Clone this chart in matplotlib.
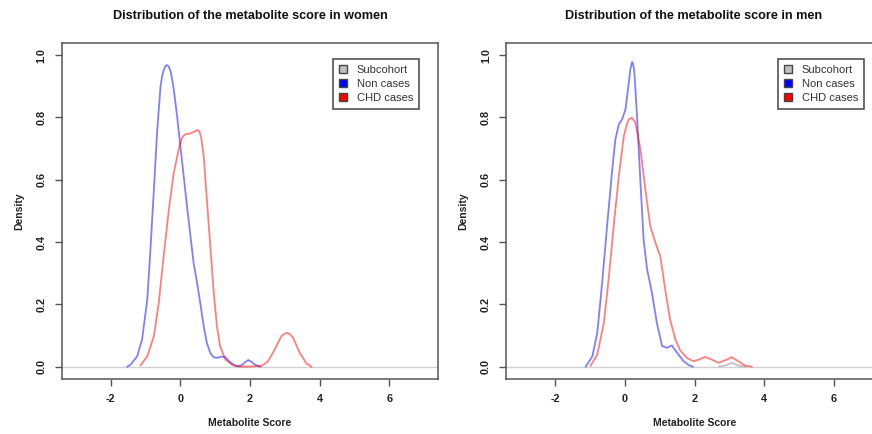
import matplotlib
matplotlib.use("Agg")
import matplotlib.pyplot as plt
from matplotlib.patches import Patch

plt.rcParams['font.family'] = ['Liberation Sans', 'DejaVu Sans']

# ---- Women ----
women_non_x = [-1.52, -1.43, -1.24, -1.10, -0.95, -0.86, -0.76, -0.67, -0.57, -0.52, -0.47, -0.42, -0.38,
               -0.33, -0.28, -0.24, -0.19, -0.095, 0.0, 0.095, 0.19, 0.29, 0.38, 0.48, 0.57, 0.67, 0.76,
               0.86, 0.95, 1.05, 1.19, 1.29, 1.43, 1.55, 1.62, 1.76, 1.86, 1.95, 2.05, 2.14, 2.29]
women_non_y = [0.0, 0.006, 0.033, 0.087, 0.215, 0.376, 0.569, 0.75, 0.90, 0.935, 0.955, 0.966, 0.968,
               0.963, 0.948, 0.925, 0.89, 0.805, 0.708, 0.612, 0.515, 0.419, 0.333, 0.269, 0.205, 0.13, 0.076,
               0.044, 0.030, 0.028, 0.032, 0.030, 0.014, 0.004, 0.001, 0.004, 0.014, 0.021, 0.015, 0.006, 0.0]
women_chd_x = [-1.14, -0.95, -0.76, -0.62, -0.48, -0.33, -0.19, -0.048, 0.048, 0.14, 0.29, 0.38, 0.45,
               0.50, 0.55, 0.60, 0.67, 0.76, 0.86, 0.95, 1.05, 1.14, 1.29, 1.48, 1.67, 2.0, 2.33, 2.52, 2.71,
               2.9, 3.0, 3.07, 3.15, 3.24, 3.43, 3.62, 3.76]
women_chd_y = [0.004, 0.033, 0.098, 0.205, 0.355, 0.505, 0.622, 0.697, 0.735, 0.746, 0.749, 0.753, 0.757,
               0.759, 0.755, 0.735, 0.676, 0.537, 0.387, 0.248, 0.13, 0.066, 0.023, 0.006, 0.0, 0.0, 0.002,
               0.017, 0.055, 0.097, 0.106, 0.108, 0.104, 0.092, 0.044, 0.01, 0.0]

# ---- Men ----
men_non_x = [-1.12, -0.93, -0.79, -0.65, -0.50, -0.36, -0.27, -0.17, -0.076, 0.02, 0.114, 0.16, 0.21,
             0.24, 0.276, 0.35, 0.45, 0.54, 0.64, 0.78, 0.92, 1.07, 1.21, 1.35, 1.50, 1.69, 1.83, 1.95]
men_non_y = [0.0, 0.033, 0.108, 0.269, 0.462, 0.633, 0.73, 0.778, 0.794, 0.826, 0.912, 0.955, 0.978,
             0.972, 0.944, 0.805, 0.59, 0.408, 0.312, 0.237, 0.14, 0.066, 0.060, 0.068, 0.044, 0.017, 0.005, 0.0]
men_chd_x = [-0.98, -0.79, -0.60, -0.455, -0.31, -0.17, -0.028, 0.06, 0.114, 0.21, 0.305, 0.45, 0.59,
             0.73, 0.88, 1.02, 1.16, 1.30, 1.45, 1.59, 1.78, 1.97, 2.12, 2.31, 2.50, 2.69, 2.88, 3.07,
             3.26, 3.45, 3.64]
men_chd_y = [0.003, 0.038, 0.14, 0.29, 0.462, 0.612, 0.74, 0.778, 0.794, 0.799, 0.783, 0.697, 0.569,
             0.451, 0.397, 0.354, 0.247, 0.151, 0.087, 0.052, 0.028, 0.017, 0.022, 0.031, 0.022, 0.012,
             0.02, 0.03, 0.017, 0.003, 0.0]
men_sub_x = [2.7, 2.88, 3.07, 3.26, 3.45]
men_sub_y = [0.0, 0.003, 0.012, 0.003, 0.0]

titles = ["Distribution of the metabolite score in women",
          "Distribution of the metabolite score in men"]
legend_labels = ["Subcohort", "Non cases", "CHD cases"]
x_ticks = [-2, 0, 2, 4, 6]
y_ticks = [0.0, 0.2, 0.4, 0.6, 0.8, 1.0]
y_tick_labels = ["0.0", "0.2", "0.4", "0.6", "0.8", "1.0"]

W, H = 872, 434
fig = plt.figure(figsize=(W / 100, H / 100), dpi=100)

def fx(px):
    return px / W

def fy(py):
    return 1 - py / H

ax_top, ax_bot = 42.7, 379
lefts = [(62, 438), (506.3, 882.7)]
title_cx = [250, 694]
legend_right = [419, 864]
spine_col = "#555555"

panels = [
    (women_non_x, women_non_y, women_chd_x, women_chd_y, None, None),
    (men_non_x, men_non_y, men_chd_x, men_chd_y, men_sub_x, men_sub_y),
]

for i, (l, r) in enumerate(lefts):
    ax = fig.add_axes([fx(l), fy(ax_bot), (r - l) / W, (ax_bot - ax_top) / H])
    nx, ny, cx, cy, sx, sy = panels[i]
    ax.axhline(0, color="#d0d0d0", lw=1.0, zorder=1)
    if sx is not None:
        ax.plot(sx, sy, color="#c0c0c0", lw=1.3, zorder=2)
    ax.plot(nx, ny, color=(0, 0, 1, 0.5), lw=1.3, solid_joinstyle="round", zorder=3)
    ax.plot(cx, cy, color=(1, 0, 0, 0.5), lw=1.3, solid_joinstyle="round", zorder=3)
    ax.set_xlim(-3.4, 7.4)
    ax.set_ylim(-0.04, 1.04)
    ax.set_xticks(x_ticks)
    ax.set_xticklabels([str(t) for t in x_ticks], fontsize=7.8, fontweight="bold",
                       color="#222222")
    ax.set_yticks(y_ticks)
    ax.set_yticklabels(y_tick_labels, rotation=90, va="center", fontsize=7.8, fontweight="bold",
                       color="#222222")
    ax.tick_params(axis="both", length=5, width=1, color=spine_col)
    ax.tick_params(axis="x", pad=6)
    ax.tick_params(axis="y", pad=6)
    for s in ax.spines.values():
        s.set_color(spine_col)
        s.set_linewidth(1.1)
    ax.set_xlabel("Metabolite Score", fontsize=7.5, fontweight="bold", labelpad=10, color="#222222")
    ax.set_ylabel("Density", fontsize=7.5, fontweight="bold", labelpad=9, color="#222222")
    fig.text(fx(title_cx[i]), fy(16), titles[i], ha="center", va="center",
             fontsize=9.1, fontweight="bold", color="#111111")
    handles = [Patch(facecolor="#c0c0c0", edgecolor="#444444"),
               Patch(facecolor="#0000ff", edgecolor="#444444"),
               Patch(facecolor="#ff0000", edgecolor="#444444")]
    leg = ax.legend(handles, legend_labels, loc="upper right",
                    bbox_to_anchor=(fx(legend_right[i]), fy(59)), bbox_transform=fig.transFigure,
                    fontsize=8, handlelength=0.7, handleheight=0.7, handletextpad=0.9,
                    borderpad=0.55, labelspacing=0.35, fancybox=False, framealpha=1,
                    edgecolor="#444444", borderaxespad=0)
    leg.get_frame().set_linewidth(1.1)
    for t in leg.get_texts():
        t.set_color("#333333")

fig.savefig("out.png", dpi=100)
